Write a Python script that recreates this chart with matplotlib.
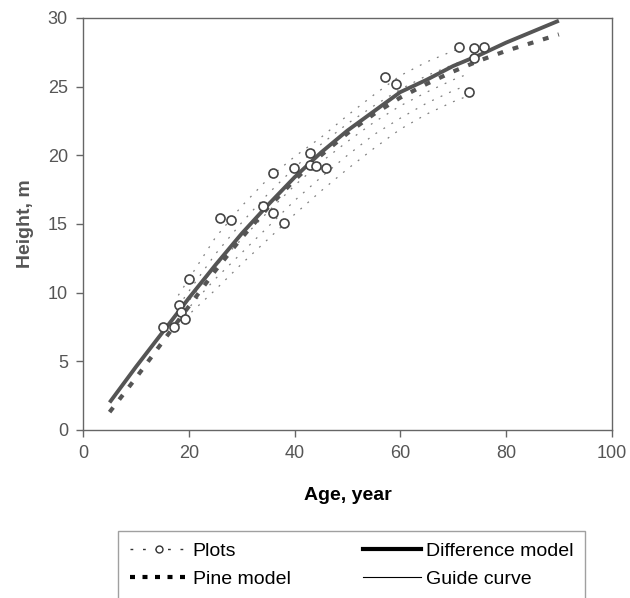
import matplotlib.pyplot as plt
from matplotlib.lines import Line2D
import numpy as np

plt.rcParams['font.family'] = ['Liberation Sans', 'DejaVu Sans']

# measured plots (age, height)
plot_age = [15.1, 17.1, 18.2, 18.5, 19.2, 20.1, 25.9, 27.9, 34.0, 36.0, 38.0, 36.0,
            39.9, 43.0, 43.0, 44.0, 45.9, 57.1, 59.2, 71.1, 74.0, 75.8, 74.0, 73.0]
plot_height = [7.5, 7.5, 9.1, 8.6, 8.1, 11.0, 15.4, 15.3, 16.3, 15.8, 15.1, 18.7,
               19.1, 20.2, 19.3, 19.2, 19.1, 25.7, 25.2, 27.9, 27.8, 27.9, 27.1, 24.6]

# model curves
model_age = [5, 10, 15, 20, 25, 30, 35, 40, 45, 50, 55, 60, 65, 70, 75, 80, 85, 90]
diff_model = [2.0, 4.6, 7.1, 9.6, 12.0, 14.3, 16.4, 18.4, 20.2, 21.8, 23.2, 24.6,
              25.5, 26.5, 27.3, 28.2, 29.0, 29.8]
pine_model = [1.3, 3.8, 6.4, 9.0, 11.6, 14.0, 16.2, 18.2, 20.0, 21.6, 23.0, 24.2,
              25.2, 26.1, 26.9, 27.6, 28.2, 28.8]

# guide curves
guide_age = [18, 20, 25, 30, 35, 40, 45, 50, 55, 60, 65, 70, 72]
guide_curves = [
    [9.8, 11.0, 14.0, 16.3, 18.3, 19.9, 21.3, 22.9, 24.4, 25.8, 26.8, 27.6, 27.9],
    [9.0, 10.1, 12.8, 15.1, 17.2, 19.1, 20.8, 22.3, 23.6, 24.8, 25.8, 26.6, 26.9],
    [8.4, 9.4, 11.9, 13.9, 15.9, 17.8, 19.5, 21.0, 22.4, 23.6, 24.6, 25.5, 25.8],
    [8.0, 8.9, 11.0, 12.9, 14.8, 16.7, 18.4, 20.0, 21.5, 22.7, 23.8, 24.7, 25.0],
    [7.6, 8.4, 10.2, 12.1, 13.9, 15.7, 17.4, 19.0, 20.5, 21.9, 23.0, 23.9, 24.2],
]

fig = plt.figure(figsize=(6.3, 5.98), dpi=100)
ax = fig.add_axes([0.132, 0.281, 0.839, 0.689])

for g in guide_curves:
    ax.plot(guide_age, g, color='#808080', lw=0.9, linestyle=(0, (1.5, 6)))

ax.plot(model_age, pine_model, color='#555555', lw=3, linestyle=(0, (1.4, 2.4)))
ax.plot(model_age, diff_model, color='#555555', lw=2.8, solid_capstyle='butt')
ax.plot(plot_age, plot_height, 'o', ms=6.5, mfc='white', mec='#444444', mew=1.2,
        linestyle='none')

ax.set_xlim(0, 100)
ax.set_ylim(0, 30)
ax.set_xticks(np.arange(0, 101, 20))
ax.set_yticks(np.arange(0, 31, 5))
ax.tick_params(direction='out', length=5, width=1, colors='#666666',
               labelsize=13, labelcolor='#555555', pad=6)
for s in ax.spines.values():
    s.set_color('#666666')
    s.set_linewidth(1)

ax.set_ylabel('Height, m', fontsize=14, fontweight='bold', color='#555555', labelpad=10)
ax.set_xlabel('Age, year', fontsize=14, fontweight='bold', color='black', labelpad=18)

handles = [
    Line2D([], [], color='#333333', lw=1, linestyle=(0, (2, 7)), marker='o', ms=5,
           mfc='white', mec='#333333'),
    Line2D([], [], color='black', lw=3, linestyle=(0, (1.2, 1.8))),
    Line2D([], [], color='black', lw=3),
    Line2D([], [], color='black', lw=0.8),
]
labels = ['Plots', 'Pine model', 'Difference model', 'Guide curve']
leg = fig.legend(handles, labels, ncol=2, loc='upper left',
                 bbox_to_anchor=(118 / 630, 1 - 531 / 598), fontsize=14,
                 frameon=True, fancybox=False, edgecolor='#888888',
                 borderpad=0.6, labelspacing=0.5, handlelength=3.0,
                 handletextpad=0.25, columnspacing=3.7, borderaxespad=0)
leg.get_frame().set_linewidth(1)

fig.savefig('out.png', dpi=100)
